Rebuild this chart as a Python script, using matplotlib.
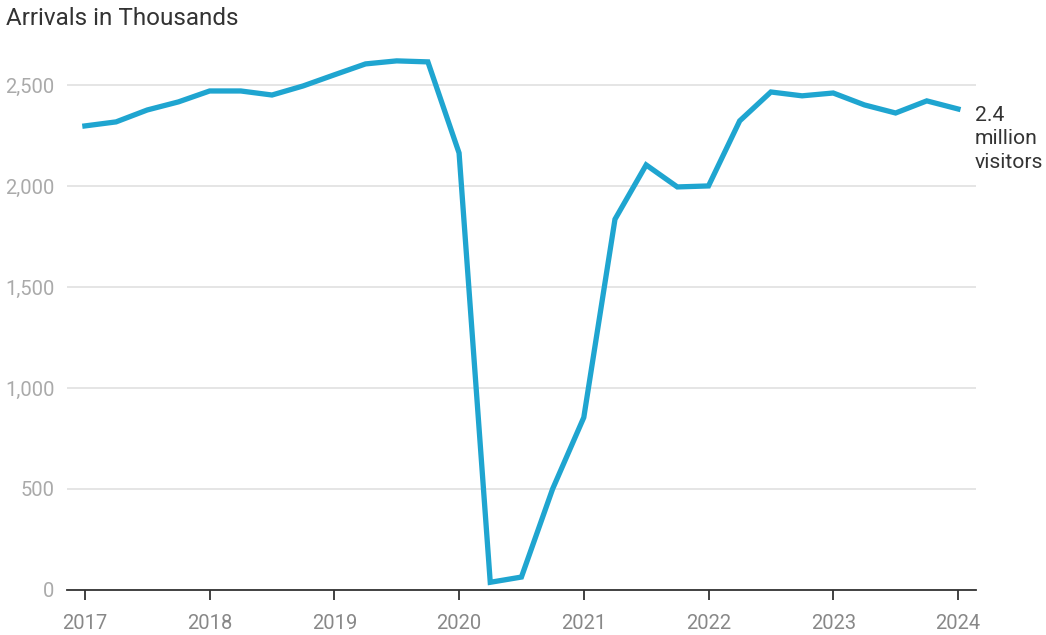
import numpy as np
import matplotlib.pyplot as plt

plt.rcParams['font.family'] = ['Roboto', 'DejaVu Sans']

# Quarterly arrivals (thousands), 2017 Q1 .. 2024 Q1
quarters = np.arange(2017, 2024.01, 0.25)
arrivals = [2297, 2317, 2376, 2416, 2470, 2470, 2450, 2495,
            2550, 2604, 2619, 2614, 2163, 38, 64, 500,
            854, 1835, 2104, 1995, 2000, 2322, 2465, 2446,
            2460, 2401, 2361, 2421, 2381]
year_ticks = list(range(2017, 2025))
y_ticks = [0, 500, 1000, 1500, 2000, 2500]

fig = plt.figure(figsize=(10.46, 6.35), dpi=100)
ax = fig.add_axes([0.064, 0.0709, 0.869, 0.859])

ax.plot(quarters, arrivals, color='#1fa5d0', lw=3.8, solid_joinstyle='miter', zorder=3)

ax.set_xlim(2016.856, 2024.144)
ax.set_ylim(0, 2700)
ax.set_xticks(year_ticks)
ax.set_yticks(y_ticks)
ax.set_yticklabels([f'{v:,}' for v in y_ticks])
ax.grid(axis='y', color='#e3e3e3', lw=1.3)
ax.set_axisbelow(True)

for s in ['top', 'right', 'left']:
    ax.spines[s].set_visible(False)
ax.spines['bottom'].set_color('#333333')
ax.spines['bottom'].set_linewidth(1.3)
ax.tick_params(axis='x', length=7, width=1.3, color='#333333', labelsize=14.5,
               labelcolor='#888888', pad=10)
ax.tick_params(axis='y', length=0, labelsize=14.5, labelcolor='#aaaaaa', pad=9)

ax.annotate('2.4\nmillion\nvisitors', xy=(quarters[-1], arrivals[-1]),
            xytext=(12, -21.5), textcoords='offset points', va='center', ha='left',
            fontsize=15.2, color='#333333', linespacing=1.32, annotation_clip=False)

fig.text(0.006, 0.971, 'Arrivals in Thousands', fontsize=17.5, color='#333333',
         ha='left', va='center')

fig.savefig('out.png', dpi=100)
